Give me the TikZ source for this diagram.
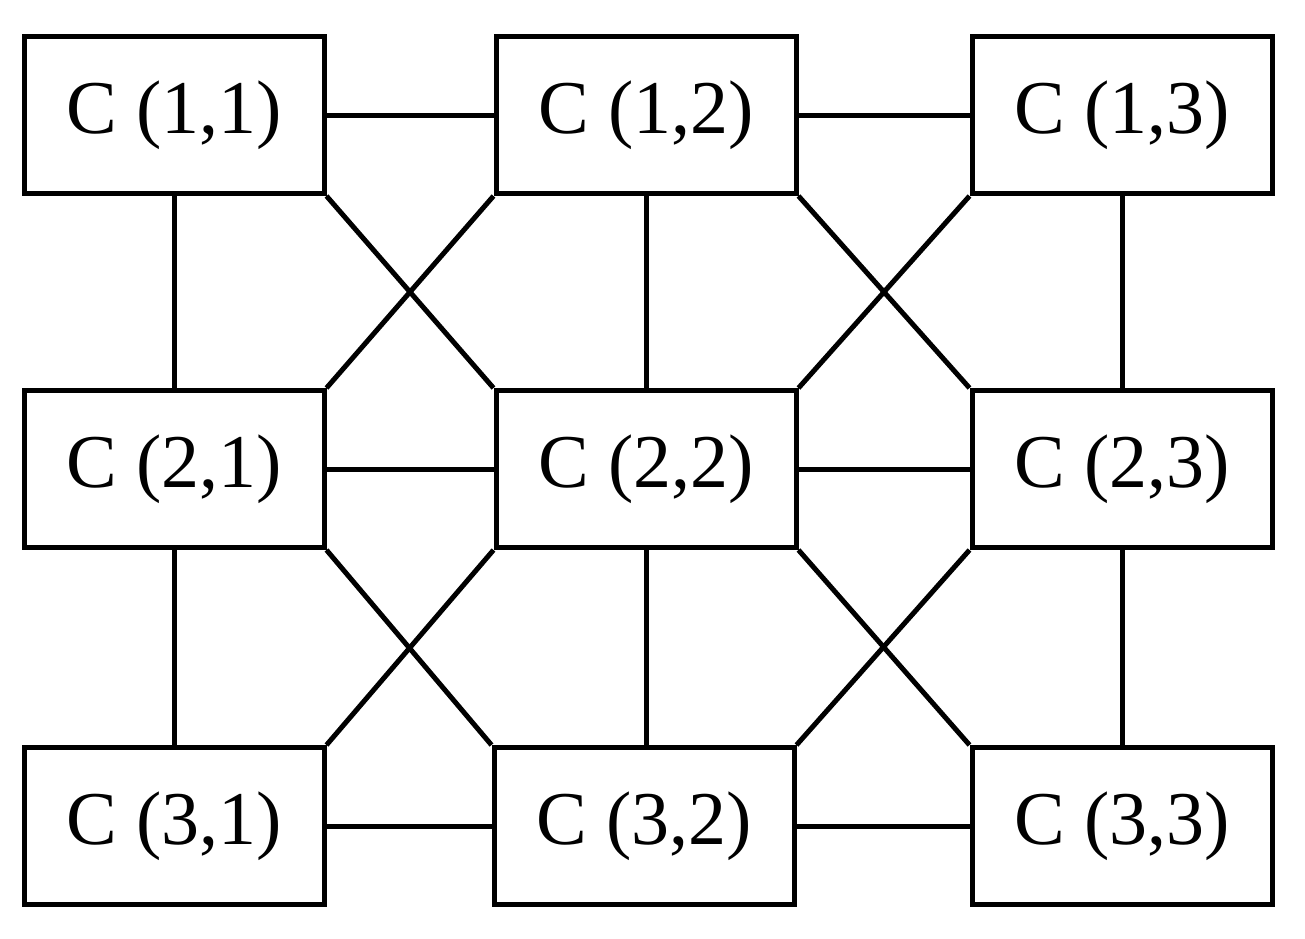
\documentclass[tikz,border=0pt]{standalone}
\usepackage{fontspec}
\setmainfont{Liberation Serif}
\begin{document}
\begin{tikzpicture}[x=1pt,y=-1pt,
  cell/.style={draw,line width=5pt,minimum width=300pt,minimum height=157pt,inner sep=0pt,font=\fontsize{76}{80}\selectfont},
  link/.style={line width=5pt}]
\useasboundingbox (0,0) rectangle (1305,938);
\node[cell] (a11) at (174,115) {C (1,1)};
\node[cell] (a12) at (646,115) {C (1,2)};
\node[cell] (a13) at (1122,115) {C (1,3)};
\node[cell] (a21) at (174,469) {C (2,1)};
\node[cell] (a22) at (646,469) {C (2,2)};
\node[cell] (a23) at (1122,469) {C (2,3)};
\node[cell] (a31) at (174,826) {C (3,1)};
\node[cell] (a32) at (644,826) {C (3,2)};
\node[cell] (a33) at (1122,826) {C (3,3)};
\foreach \r in {1,2,3}{
  \draw[link] (a\r1) -- (a\r2);
  \draw[link] (a\r2) -- (a\r3);}
\foreach \c in {1,2,3}{
  \draw[link] (a1\c) -- (a2\c);
  \draw[link] (a2\c.south) -- (a2\c.south |- a3\c.north);}
\foreach \r/\s in {1/2,2/3}{
  \draw[link] (a\r1.south east) -- (a\s2.north west);
  \draw[link] (a\r2.south west) -- (a\s1.north east);
  \draw[link] (a\r2.south east) -- (a\s3.north west);
  \draw[link] (a\r3.south west) -- (a\s2.north east);}
\end{tikzpicture}
\end{document}
